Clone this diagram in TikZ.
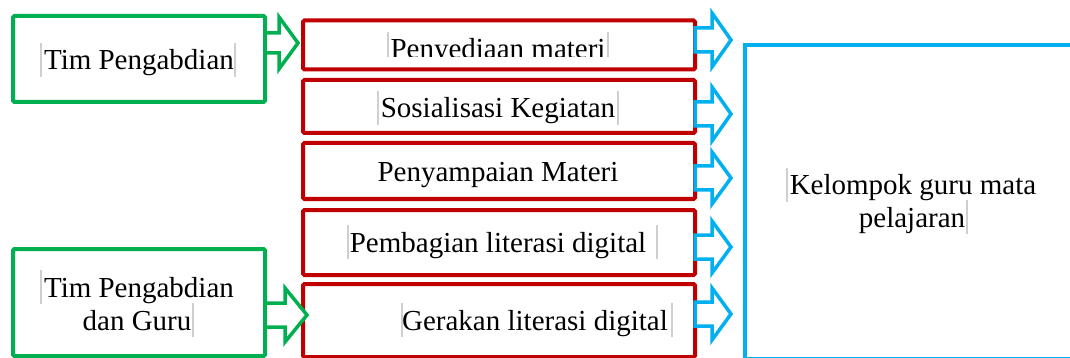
\documentclass[tikz,border=0pt]{standalone}
\usepackage{fontspec}
\setmainfont{Liberation Serif}
\usetikzlibrary{calc}
\definecolor{grn}{HTML}{00B050}
\definecolor{rd}{HTML}{C00000}
\definecolor{bl}{HTML}{00B0F0}
\definecolor{mk}{HTML}{CFCFCF}

% Outlined block arrow from the x of #2 to the tip point #3
% #4 body half-height, #5 head half-height, #6 head length
\newcommand{\blockarrow}[6]{%
  \draw[#1] let \p1=(#2), \p2=(#3) in
    (\x1,\y2+#4pt) -- (\x2-#6pt,\y2+#4pt) -- (\x2-#6pt,\y2+#5pt) -- (\x2,\y2)
    -- (\x2-#6pt,\y2-#5pt) -- (\x2-#6pt,\y2-#4pt) -- (\x1,\y2-#4pt) -- cycle;}
% Thin text-frame marker at x=#1 around baseline #2
\newcommand{\framemark}[2]{\draw[fmark] (#1,#2-27) -- (#1,#2+7);}

\begin{document}
\begin{tikzpicture}[x=1pt,y=-1pt,
  box/.style={draw, line width=4pt, inner sep=0pt, outer sep=0pt, rounded corners=1.5pt, fill=white},
  greenbox/.style={box, draw=grn, minimum width=252pt},
  redbox/.style={box, draw=rd, minimum width=392pt},
  bluebox/.style={box, draw=bl, rounded corners=0pt},
  arr/.style={line width=3.5pt, fill=white, line join=miter},
  garrow/.style={arr, draw=grn},
  barrow/.style={arr, draw=bl},
  fmark/.style={draw=mk, line width=1.4pt},
  lbl/.style={anchor=base, inner sep=0pt, font=\fontsize{29}{33}\selectfont}]
\useasboundingbox (0,0) rectangle (1070,358);
\clip (0,0) rectangle (1070,358);

% actors on the left
\node[greenbox, minimum height=86pt] (g1) at (139,59) {};
\node[greenbox, minimum height=107pt] (g2) at (139,302.5) {};

% activity boxes
\node[redbox, minimum height=49pt] (r1) at (499,45) {};
\node[redbox, minimum height=53pt] (r2) at (499,106.5) {};
\node[redbox, minimum height=56pt] (r3) at (499,171) {};
\node[redbox, minimum height=65pt] (r4) at (499,242.5) {};
\node[redbox, minimum height=73pt] (r5) at (499,320.5) {};

% target group
\node[bluebox, minimum width=332pt, minimum height=314pt] (k) at (911,202) {};

% labels
\node[lbl] (lg1) at (139,70) {Tim Pengabdian};
\node[lbl] (lg2a) at (139,297) {Tim Pengabdian};
\node[lbl] (lg2b) at (137,330) {dan Guru};
\begin{scope}
  \clip (305,22) rectangle (693,57);
  \node[lbl] (lr1) at (498,59) {Penyediaan materi};
  \framemark{388}{59}
  \framemark{608}{59}
\end{scope}
\node[lbl] (lr2) at (498,118) {Sosialisasi Kegiatan};
\node[lbl] (lr3) at (498,182) {Penyampaian Materi};
\node[lbl] (lr4) at (498,252) {Pembagian literasi digital};
\node[lbl] (lr5) at (535,330) {Gerakan literasi digital};
\node[lbl] (lka) at (913,195) {Kelompok guru mata};
\node[lbl] (lkb) at (912,227) {pelajaran};

% text-frame markers
\framemark{41}{70}   \framemark{235}{70}
\framemark{41}{297}  \framemark{193}{330}
\framemark{378}{118} \framemark{618}{118}
\framemark{348}{252} \framemark{657}{252}
\framemark{402}{330} \framemark{672}{330}
\framemark{787}{195} \framemark{967}{227}

% arrow tips
\coordinate (tg1) at (298,43);
\coordinate (tg2) at (307,315);
\coordinate (tb1) at (731,40);
\coordinate (tb2) at (731,114);
\coordinate (tb3) at (731,178);
\coordinate (tb4) at (731,247);
\coordinate (tb5) at (731,314);

% connectors
\blockarrow{garrow}{g1.east}{tg1}{10}{26}{19}
\blockarrow{garrow}{g2.east}{tg2}{12}{27}{22}
\blockarrow{barrow}{r1.east}{tb1}{12}{27}{19}
\blockarrow{barrow}{r2.east}{tb2}{12}{27}{19}
\blockarrow{barrow}{r3.east}{tb3}{12}{26}{19}
\blockarrow{barrow}{r4.east}{tb4}{12}{26}{19}
\blockarrow{barrow}{r5.east}{tb5}{12}{26}{19}
\end{tikzpicture}
\end{document}
